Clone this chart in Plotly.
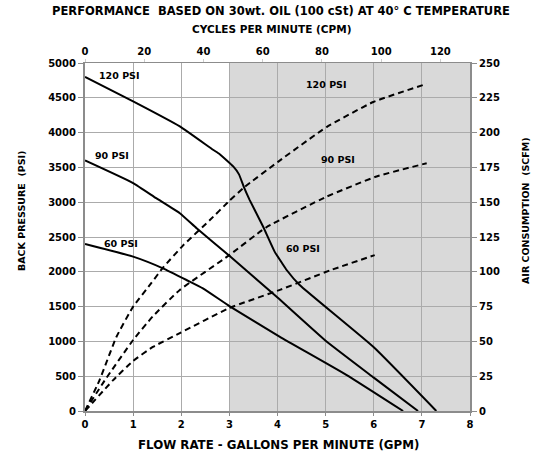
import plotly.graph_objects as go

# Back pressure (PSI) vs flow rate (GPM) - solid curves
bp120_x = [0, 1.0, 1.97, 2.66, 2.8, 3.08, 3.2, 3.3, 3.42, 3.7, 3.94, 4.1, 4.19, 4.46, 5.99, 7.3]
bp120_y = [4800, 4450, 4090, 3754, 3690, 3514, 3400, 3220, 3034, 2650, 2290, 2120, 2026, 1810, 922, 0]
bp90_x = [0, 1.0, 1.48, 1.97, 2.32, 3.0, 4.0, 5.0, 6.0, 6.92]
bp90_y = [3600, 3275, 3058, 2842, 2625, 2230, 1630, 1010, 480, 0]
bp60_x = [0, 1.0, 1.62, 2.11, 2.45, 3.0, 4.05, 5.43, 6.61]
bp60_y = [2400, 2218, 2050, 1882, 1762, 1508, 1066, 520, 0]

# Air consumption (SCFM) vs flow rate (GPM) - dashed curves
ac120_x = [0, 0.3, 0.65, 1.0, 1.38, 1.62, 2.04, 2.59, 3.0, 3.32, 4.01, 5.02, 5.99, 7.1]
ac120_y = [0, 22, 53, 75, 92, 103, 119, 137, 151, 161, 179, 204, 222, 235]
ac90_x = [0, 0.41, 1.0, 1.41, 1.97, 3.0, 3.77, 5.02, 6.06, 7.1]
ac90_y = [0, 22, 51, 68, 87, 112, 132, 154, 168.5, 178]
ac60_x = [0, 0.58, 1.0, 1.41, 1.97, 3.0, 4.05, 5.09, 6.02]
ac60_y = [0, 22, 36, 46, 56, 74, 87, 101, 112]

gpm_ticks = [0, 1, 2, 3, 4, 5, 6, 7, 8]
cpm_ticks = [0, 20, 40, 60, 80, 100, 120]
psi_ticks = list(range(0, 5001, 500))
scfm_ticks = list(range(0, 251, 25))

FONT = "DejaVu Sans"
AX = "#8c8c8c"
GRID = "#ababab"

W, H = 540, 457
ML, MR, MT, MB = 85, 70, 63, 46

fig = go.Figure()
line_solid = dict(color="black", width=2, shape="spline", smoothing=0.4)
line_dash = dict(color="black", width=2, dash="6px,4px", shape="spline", smoothing=0.4)

for xs, ys in [(bp120_x, bp120_y), (bp90_x, bp90_y), (bp60_x, bp60_y)]:
    fig.add_trace(go.Scatter(x=xs, y=ys, mode="lines", line=line_solid,
                             xaxis="x", yaxis="y", showlegend=False, hoverinfo="skip"))
for xs, ys in [(ac120_x, ac120_y), (ac90_x, ac90_y), (ac60_x, ac60_y)]:
    fig.add_trace(go.Scatter(x=xs, y=ys, mode="lines", line=line_dash,
                             xaxis="x", yaxis="y2", showlegend=False, hoverinfo="skip"))
# invisible trace so the top CPM axis is drawn
fig.add_trace(go.Scatter(x=[0, 130], y=[0, 0], mode="lines", line=dict(width=0),
                         opacity=0, xaxis="x2", yaxis="y", showlegend=False, hoverinfo="skip"))

tickfont = dict(family=FONT, size=10, color="black", weight="bold")

fig.update_layout(
    width=W, height=H,
    margin=dict(l=ML, r=MR, t=MT, b=MB, autoexpand=False),
    paper_bgcolor="white", plot_bgcolor="white",
    showlegend=False,
    xaxis=dict(range=[0, 8], tickvals=gpm_ticks, showgrid=True, gridcolor=GRID, gridwidth=1,
               zeroline=False, showline=True, linecolor=AX, linewidth=2, automargin=False,
               ticks="outside", ticklen=3, tickcolor=AX, tickfont=tickfont),
    xaxis2=dict(range=[0, 130], tickvals=cpm_ticks, overlaying="x", side="top", anchor="y",
                showgrid=False, zeroline=False, showline=True, linecolor=AX, linewidth=1,
                automargin=False, ticks="outside", ticklen=3, tickcolor="#cccccc", tickfont=tickfont),
    yaxis=dict(range=[0, 5000], tickvals=psi_ticks, showgrid=True, gridcolor=GRID, gridwidth=1,
               zeroline=False, showline=True, linecolor=AX, linewidth=2, automargin=False,
               ticks="outside", ticklen=5, tickcolor=AX, tickfont=tickfont),
    yaxis2=dict(range=[0, 250], tickvals=scfm_ticks, overlaying="y", side="right", anchor="x",
                showgrid=False, zeroline=False, showline=True, linecolor=AX, linewidth=2,
                automargin=False, ticks="outside", ticklen=5, tickcolor=AX, tickfont=tickfont),
    shapes=[dict(type="rect", xref="x", yref="y", x0=3, x1=8, y0=0, y1=5000,
                 fillcolor="#d9d9d9", line=dict(width=0), layer="below")],
)

# text placed in pixels, converted to paper coordinates
PW, PH = W - ML - MR, H - MT - MB
texts = [
    ("PERFORMANCE  BASED ON 30wt. OIL (100 cSt) AT 40° C TEMPERATURE", 281, 11, 11.5, 0),
    ("CYCLES PER MINUTE (CPM)", 271, 29, 10.5, 0),
    ("FLOW RATE - GALLONS PER MINUTE (GPM)", 278, 445, 11.8, 0),
    ("BACK PRESSURE  (PSI)", 21, 211, 9.5, -90),
    ("AIR CONSUMPTION  (SCFM)", 525, 211, 9.5, -90),
]
for t, px, py, sz, ang in texts:
    fig.add_annotation(text=t, xref="paper", yref="paper",
                       x=(px - ML) / PW, y=(H - MB - py) / PH,
                       showarrow=False, textangle=ang,
                       font=dict(family=FONT, size=sz, color="black", weight="bold"),
                       xanchor="center", yanchor="middle")

curve_labels = [("120 PSI", 0.70, 4824), ("90 PSI", 0.57, 3672), ("60 PSI", 0.74, 2405),
                ("120 PSI", 5.0, 4690), ("90 PSI", 5.25, 3620), ("60 PSI", 4.53, 2328)]
for t, x, y in curve_labels:
    fig.add_annotation(text=t, x=x, y=y, xref="x", yref="y", showarrow=False,
                       font=dict(family=FONT, size=9.5, color="black", weight="bold"))

fig.write_html("out.html", config={"displayModeBar": False, "staticPlot": True},
               post_script="document.body.style.margin='0';document.body.style.overflow='hidden';")
